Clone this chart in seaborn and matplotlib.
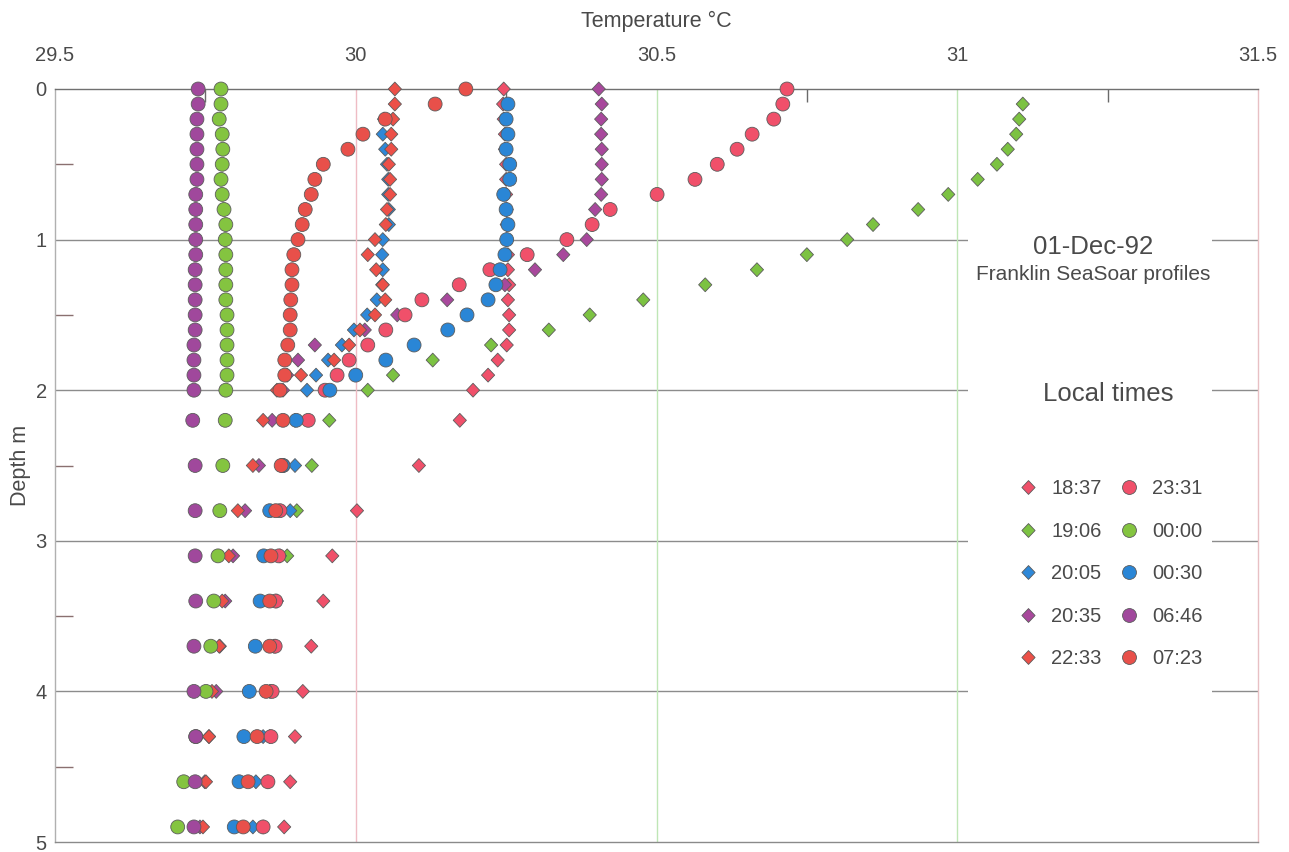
import numpy as np
import pandas as pd
import matplotlib
matplotlib.use("Agg")
import matplotlib.pyplot as plt
import seaborn as sns
from matplotlib.path import Path
from matplotlib.lines import Line2D
from matplotlib.patches import Rectangle
from matplotlib.ticker import MultipleLocator

# Depth levels of the SeaSoar bins (m)
depths = [0.0, 0.1, 0.2, 0.3, 0.4, 0.5, 0.6, 0.7, 0.8, 0.9, 1.0,
          1.1, 1.2, 1.3, 1.4, 1.5, 1.6, 1.7, 1.8, 1.9, 2.0,
          2.2, 2.5, 2.8, 3.1, 3.4, 3.7, 4.0, 4.3, 4.6, 4.9]

times = ["18:37", "19:06", "20:05", "20:35", "22:33",
         "23:31", "00:00", "00:30", "06:46", "07:23"]

nan = np.nan
# Temperature (deg C) per profile, one value per depth level
t_1837 = [30.246, 30.245, 30.246, 30.248, 30.248, 30.250, 30.250, 30.250, 30.251, 30.251, 30.251,
          30.253, 30.253, 30.255, 30.253, 30.255, 30.255, 30.251, 30.236, 30.220, 30.195,
          30.173, 30.105, 30.002, 29.961, 29.946, 29.926, 29.912, 29.899, 29.891, 29.881]
t_1906 = [nan, 31.109, 31.103, 31.098, 31.084, 31.066, 31.034, 30.985, 30.935, 30.860, 30.817,
          30.750, 30.667, 30.581, 30.478, 30.389, 30.321, 30.225, 30.128, 30.062, 30.020,
          29.956, 29.927, 29.902, 29.886, 29.867, 29.864, 29.857, 29.857, 29.854, 29.846]
t_2005 = [nan, nan, 30.047, 30.045, 30.049, 30.052, 30.054, 30.054, 30.055, 30.055, 30.045,
          30.044, 30.045, 30.044, 30.035, 30.019, 29.997, 29.977, 29.954, 29.934, 29.919,
          29.899, 29.899, 29.891, 29.874, 29.869, 29.866, 29.859, 29.846, 29.834, 29.829]
t_2035 = [30.404, 30.409, 30.408, 30.408, 30.409, 30.409, 30.409, 30.408, 30.398, 30.393, 30.384,
          30.345, 30.298, 30.248, 30.152, 30.069, 30.015, 29.932, 29.904, 29.886, 29.879,
          29.861, 29.839, 29.816, 29.796, 29.783, 29.774, 29.768, 29.756, 29.749, 29.741]
t_2233 = [30.065, 30.065, 30.062, 30.059, 30.059, 30.055, 30.057, 30.057, 30.052, 30.050, 30.032,
          30.020, 30.034, 30.045, 30.049, 30.032, 30.007, 29.989, 29.964, 29.909, 29.869,
          29.846, 29.829, 29.804, 29.789, 29.778, 29.773, 29.761, 29.756, 29.751, 29.746]
t_2331 = [30.717, 30.710, 30.695, 30.659, 30.634, 30.601, 30.564, 30.501, 30.423, 30.393, 30.351,
          30.285, 30.223, 30.172, 30.110, 30.082, 30.050, 30.020, 29.989, 29.969, 29.949,
          29.921, 29.879, 29.874, 29.872, 29.867, 29.866, 29.861, 29.859, 29.854, 29.846]
t_0000 = [29.776, 29.776, 29.773, 29.778, 29.779, 29.778, 29.776, 29.778, 29.781, 29.784, 29.783,
          29.784, 29.784, 29.784, 29.784, 29.786, 29.786, 29.786, 29.786, 29.786, 29.784,
          29.783, 29.779, 29.774, 29.771, 29.764, 29.759, 29.751, 29.734, 29.714, 29.704]
t_0030 = [nan, 30.253, 30.250, 30.253, 30.250, 30.256, 30.256, 30.246, 30.250, 30.253, 30.251,
          30.248, 30.240, 30.233, 30.220, 30.185, 30.153, 30.097, 30.050, 30.000, 29.957,
          29.901, 29.879, 29.857, 29.847, 29.841, 29.833, 29.823, 29.814, 29.806, 29.798]
t_0646 = [29.738, 29.738, 29.736, 29.736, 29.736, 29.736, 29.736, 29.734, 29.734, 29.734, 29.734,
          29.734, 29.733, 29.733, 29.733, 29.733, 29.733, 29.731, 29.731, 29.731, 29.731,
          29.729, 29.733, 29.733, 29.733, 29.734, 29.731, 29.731, 29.734, 29.733, 29.731]
t_0723 = [30.183, 30.132, 30.049, 30.012, 29.987, 29.946, 29.932, 29.926, 29.916, 29.911, 29.904,
          29.897, 29.894, 29.894, 29.892, 29.891, 29.891, 29.887, 29.882, 29.882, 29.874,
          29.879, 29.876, 29.867, 29.859, 29.857, 29.857, 29.851, 29.836, 29.821, 29.813]

profiles = [t_1837, t_1906, t_2005, t_2035, t_2233,
            t_2331, t_0000, t_0030, t_0646, t_0723]

colors = ["#f0506a", "#7cc242", "#2e88d8", "#a8489c", "#ec5048",
          "#f0506a", "#84c440", "#2a86d6", "#a0489c", "#e8504a"]

diamond = Path([(0, 1), (0.95, 0), (0, -1), (-0.95, 0), (0, 1)],
               [Path.MOVETO, Path.LINETO, Path.LINETO, Path.LINETO, Path.CLOSEPOLY])
marker_shapes = [diamond] * 5 + ["o"] * 5

frames = [pd.DataFrame({"time": t, "depth": depths, "temp": vals})
          for t, vals in zip(times, profiles)]
df = pd.concat(frames, ignore_index=True).dropna()

sns.set_theme(style="white")
plt.rcParams["font.family"] = ["Liberation Sans", "DejaVu Sans"]

fig = plt.figure(figsize=(12.89, 8.52), dpi=100)
ax = fig.add_axes([55 / 1289, 1 - 842 / 852, (1258 - 55) / 1289, (842 - 89) / 852])

text_col = "#4a4a4a"
edge_col = "#5c5c5c"

# reference lines
for d in [1, 2, 3, 4]:
    ax.axhline(d, color="#8c8c8c", lw=1.0, zorder=0.5)
ax.axvline(30.0, color="#efbcc4", lw=1.0, zorder=0.5)
ax.axvline(30.5, color="#bfe6b6", lw=1.0, zorder=0.5)
ax.axvline(31.0, color="#bfe6b6", lw=1.0, zorder=0.5)

# white panel behind the annotation block
ax.add_patch(Rectangle((31.018, 0.9), 0.405, 3.18, facecolor="white",
                       edgecolor="none", zorder=1.5))

sns.scatterplot(data=df, x="temp", y="depth", hue="time", style="time",
                hue_order=times, style_order=times,
                palette=dict(zip(times, colors)),
                markers=dict(zip(times, marker_shapes)),
                s=100, edgecolor=edge_col, linewidth=0.6,
                legend=False, ax=ax, zorder=3, clip_on=False)

ax.set_xlim(29.5, 31.5)
ax.set_ylim(5, 0)
ax.xaxis.tick_top()
ax.xaxis.set_label_position("top")
ax.set_xticks([29.5, 30.0, 30.5, 31.0, 31.5])
ax.set_xticklabels(["29.5", "30", "30.5", "31", "31.5"])
ax.set_yticks([0, 1, 2, 3, 4, 5])
ax.set_yticklabels(["0", "1", "2", "3", "4", "5"])
ax.xaxis.set_minor_locator(MultipleLocator(0.25))
ax.yaxis.set_minor_locator(MultipleLocator(0.5))
ax.tick_params(axis="x", which="major", length=0, pad=17, labelsize=14.5, labelcolor=text_col)
ax.tick_params(axis="y", which="major", length=0, pad=6, labelsize=14.5, labelcolor=text_col)
ax.tick_params(axis="x", which="minor", direction="in", length=9, width=1.0,
               color="#6a6a6a", top=True, bottom=False)
ax.tick_params(axis="y", which="minor", direction="in", length=13, width=1.0,
               color="#8a7070", left=True, right=False)

ax.set_xlabel("Temperature °C", fontsize=15.5, color=text_col, labelpad=14)
ax.set_ylabel("Depth m", fontsize=15.5, color=text_col, labelpad=3)

ax.spines["top"].set_color("#707070")
ax.spines["bottom"].set_color("#8a8a8a")
ax.spines["left"].set_color("#b0b0b0")
ax.spines["right"].set_color("#e8c0c4")
for sp in ax.spines.values():
    sp.set_linewidth(1.0)

# annotation block
fig.text(1093 / 1289, 1 - 247 / 852, "01-Dec-92", fontsize=18.5, color=text_col,
         ha="center", va="center")
fig.text(1093 / 1289, 1 - 275 / 852, "Franklin SeaSoar profiles", fontsize=15,
         color=text_col, ha="center", va="center")
fig.text(1108 / 1289, 1 - 394 / 852, "Local times", fontsize=18.5, color=text_col,
         ha="center", va="center")

handles = [Line2D([], [], linestyle="none", marker=m, markersize=10,
                  markerfacecolor=c, markeredgecolor=edge_col, markeredgewidth=0.6)
           for m, c in zip(marker_shapes, colors)]
leg = ax.legend(handles, times, ncol=2, frameon=False, fontsize=14.5,
                loc="upper left", bbox_to_anchor=(1018 / 1289, 1 - 479 / 852),
                bbox_transform=fig.transFigure, handlelength=1.0,
                handletextpad=0.65, columnspacing=0.85, labelspacing=1.17,
                borderpad=0, borderaxespad=0)
for t in leg.get_texts():
    t.set_color(text_col)

fig.savefig("out.png", dpi=100, facecolor="white")
